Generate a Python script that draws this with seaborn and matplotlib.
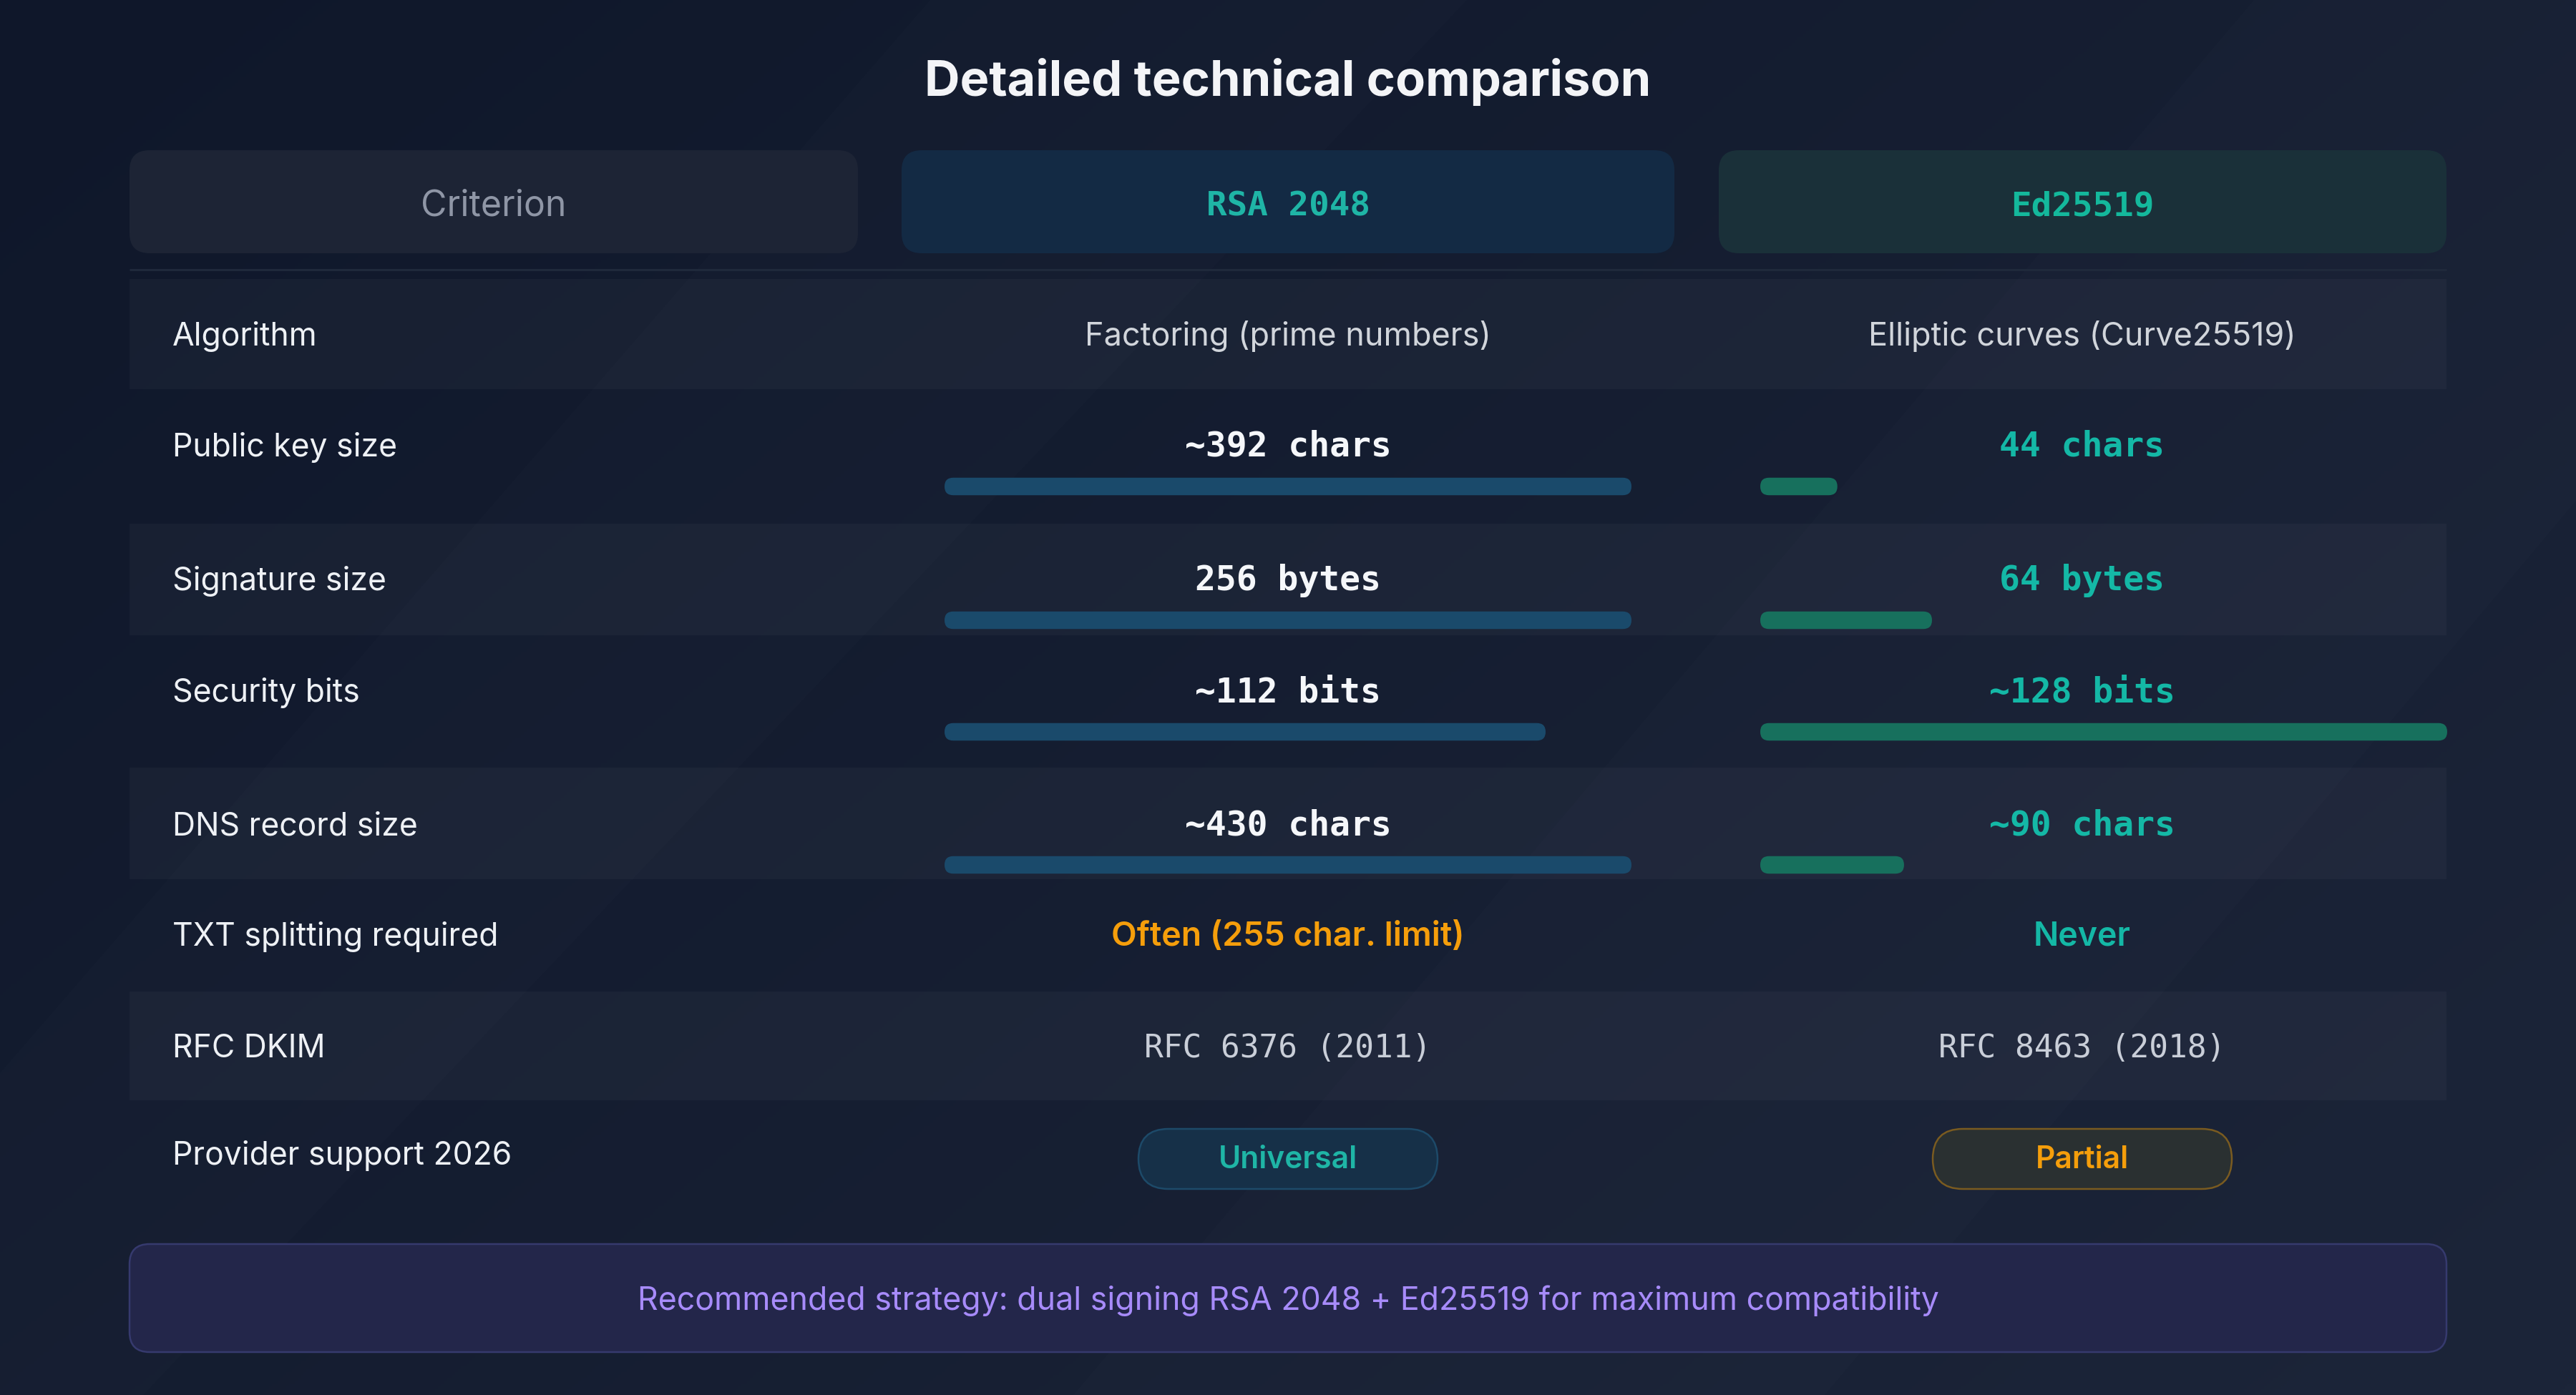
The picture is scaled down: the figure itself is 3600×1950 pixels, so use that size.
import numpy as np
import pandas as pd
import seaborn as sns
import matplotlib.pyplot as plt
from matplotlib.patches import FancyBboxPatch, Rectangle, Polygon
from matplotlib.colors import LinearSegmentedColormap

# chart content
title = "Detailed technical comparison"
headers = ["Criterion", "RSA 2048", "Ed25519"]
criteria = ["Algorithm", "Public key size", "Signature size", "Security bits",
            "DNS record size", "TXT splitting required", "RFC DKIM", "Provider support 2026"]
rsa_cells = ["Factoring (prime numbers)", "~392 chars", "256 bytes", "~112 bits",
             "~430 chars", "Often (255 char. limit)", "RFC 6376 (2011)", "Universal"]
ed_cells = ["Elliptic curves (Curve25519)", "44 chars", "64 bytes", "~128 bits",
            "~90 chars", "Never", "RFC 8463 (2018)", "Partial"]
metrics = ["Public key size", "Signature size", "Security bits", "DNS record size"]
rsa_values = [392, 256, 112, 430]
ed_values = [44, 64, 128, 90]
footer = "Recommended strategy: dual signing RSA 2048 + Ed25519 for maximum compatibility"

# layout (pixels)
W, H = 3600, 1950
L, R = 181, 3419
row_top = [390, 544, 732, 888, 1073, 1229, 1386, 1538, 1700]
baseline = [483, 638, 825, 981, 1167, 1322, 1478, 1628]
row_kind = ["text", "metric", "metric", "metric", "metric", "flag", "mono", "badge"]
col_x = [241, 1800, 2910]
bar_span = {"rsa": (1320, 960), "ed": (2460, 960)}
BAR_H = 24.5

def pt(px):
    return px * 72 / 100

SANS = ["Inter", "DejaVu Sans"]
MONO = ["DejaVu Sans Mono"]

sns.set_theme(style="white")
plt.rcParams["font.family"] = SANS

fig = plt.figure(figsize=(W / 100, H / 100), dpi=100)
ax = fig.add_axes([0, 0, 1, 1])
ax.set_xlim(0, W)
ax.set_ylim(H, 0)
ax.axis("off")

# background gradient with faint diagonal sheens
yy, xx = np.mgrid[0:H:4, 0:W:4]
grad = 0.6 * xx / W + 0.4 * yy / H
bg = LinearSegmentedColormap.from_list("bg", ["#0f172a", "#1c2539"])
ax.imshow(grad, cmap=bg, extent=[0, W, H, 0], aspect="auto", zorder=0)
for pts in [[(0, 1500), (1300, 0), (2050, 0), (200, 1950), (0, 1950)],
            [(1500, 1950), (3150, 0), (3600, 0), (3600, 700), (2550, 1950)]]:
    ax.add_patch(Polygon(pts, closed=True, fc="#ffffff", alpha=0.012, ec="none", zorder=0.5))

ax.text(W / 2, 134, title, ha="center", va="baseline", fontsize=pt(68.6),
        fontweight="bold", color="#f3f4f7", zorder=3)

# header boxes
head_boxes = [(181, 1199, "#1d2435", "#8f96a6", SANS, "normal"),
              (1260, 2340, "#132a44", "#1fb5a6", MONO, "bold"),
              (2402, 3419, "#1a3039", "#14b89c", MONO, "bold")]
for name, (x0, x1, fc, tc, fam, fw) in zip(headers, head_boxes):
    ax.add_patch(FancyBboxPatch((x0, 210), x1 - x0, 144,
                                boxstyle="round,pad=0,rounding_size=28",
                                fc=fc, ec="none", zorder=1))
    ax.text((x0 + x1) / 2, 301, name, ha="center", va="baseline",
            fontsize=pt(50) if fam is SANS else pt(47.5), family=fam,
            fontweight=fw, color=tc, zorder=3)

ax.plot([L, R], [377, 377], color="#1f293b", lw=pt(3), solid_capstyle="butt", zorder=1)

# row bands
for i in range(0, len(criteria), 2):
    ax.add_patch(Rectangle((L, row_top[i]), R - L, row_top[i + 1] - row_top[i],
                           fc="#ffffff", alpha=0.032, ec="none", zorder=1))

# cells
for i, crit in enumerate(criteria):
    b = baseline[i]
    kind = row_kind[i]
    ax.text(col_x[0], b, crit, ha="left", va="baseline", fontsize=pt(44.5),
            color="#eef1f5", zorder=3)
    for cx, txt, side in [(col_x[1], rsa_cells[i], "rsa"), (col_x[2], ed_cells[i], "ed")]:
        if kind == "text":
            ax.text(cx, b, txt, ha="center", va="baseline", fontsize=pt(45),
                    color="#d1d5db", zorder=3)
        elif kind == "metric":
            ax.text(cx, b, txt, ha="center", va="baseline", fontsize=pt(48),
                    family=MONO, fontweight="bold",
                    color="#f5f7fa" if side == "rsa" else "#14b8a6", zorder=3)
        elif kind == "flag":
            ax.text(cx, b, txt, ha="center", va="baseline", fontsize=pt(46.5),
                    fontweight="semibold",
                    color="#f59e0b" if side == "rsa" else "#14b8a6", zorder=3)
        elif kind == "mono":
            ax.text(cx, b, txt, ha="center", va="baseline", fontsize=pt(44.5),
                    family=MONO, color="#c9ced8", zorder=3)
        else:
            fc, ec, tc = (("#163048", "#1d4a69", "#1fb5a6") if side == "rsa"
                          else ("#2a3031", "#7a5b20", "#f59e0b"))
            ax.add_patch(FancyBboxPatch((cx - 209, 1578), 418, 84,
                                        boxstyle="round,pad=0,rounding_size=42",
                                        fc=fc, ec=ec, lw=pt(2.5), zorder=2))
            ax.text(cx, 1633, txt, ha="center", va="baseline", fontsize=pt(42.5),
                    fontweight="semibold", color=tc, zorder=3)

# comparison bars, each row scaled to its larger value
df = pd.DataFrame({"metric": metrics, "rsa": rsa_values, "ed": ed_values})
row_max = df[["rsa", "ed"]].max(axis=1)
df["bar_y"] = [baseline[criteria.index(m)] + 42 for m in metrics]
for side, color in [("rsa", "#1a4a6b"), ("ed", "#17705d")]:
    x0, span = bar_span[side]
    bax = fig.add_axes([x0 / W, 0, span / W, 1])
    frac = df[side] / row_max
    sns.barplot(x=frac, y=df["bar_y"], orient="h", native_scale=True, width=0.15,
                color=color, errorbar=None, ax=bax)
    bax.set_xlim(0, 1)
    bax.set_ylim(H, 0)
    bax.axis("off")
    bax.patch.set_alpha(0)
    for p in list(bax.patches):
        px, pw = p.get_x(), p.get_width()
        yc = p.get_y() + p.get_height() / 2
        p.remove()
        bax.add_patch(FancyBboxPatch((px, yc - BAR_H / 2), pw, BAR_H,
                                     boxstyle=f"round,pad=0,rounding_size={BAR_H / 2 / span}",
                                     mutation_aspect=span, fc=color, ec="none"))

# footer note
ax.add_patch(FancyBboxPatch((L, 1739), R - L, 151, boxstyle="round,pad=0,rounding_size=28",
                            fc="#23264a", ec="#363a6e", lw=pt(2.5), zorder=1))
ax.text(W / 2, 1831, footer, ha="center", va="baseline", fontsize=pt(44.7),
        color="#a78bfa", zorder=3)

fig.savefig("out.png", dpi=100)
